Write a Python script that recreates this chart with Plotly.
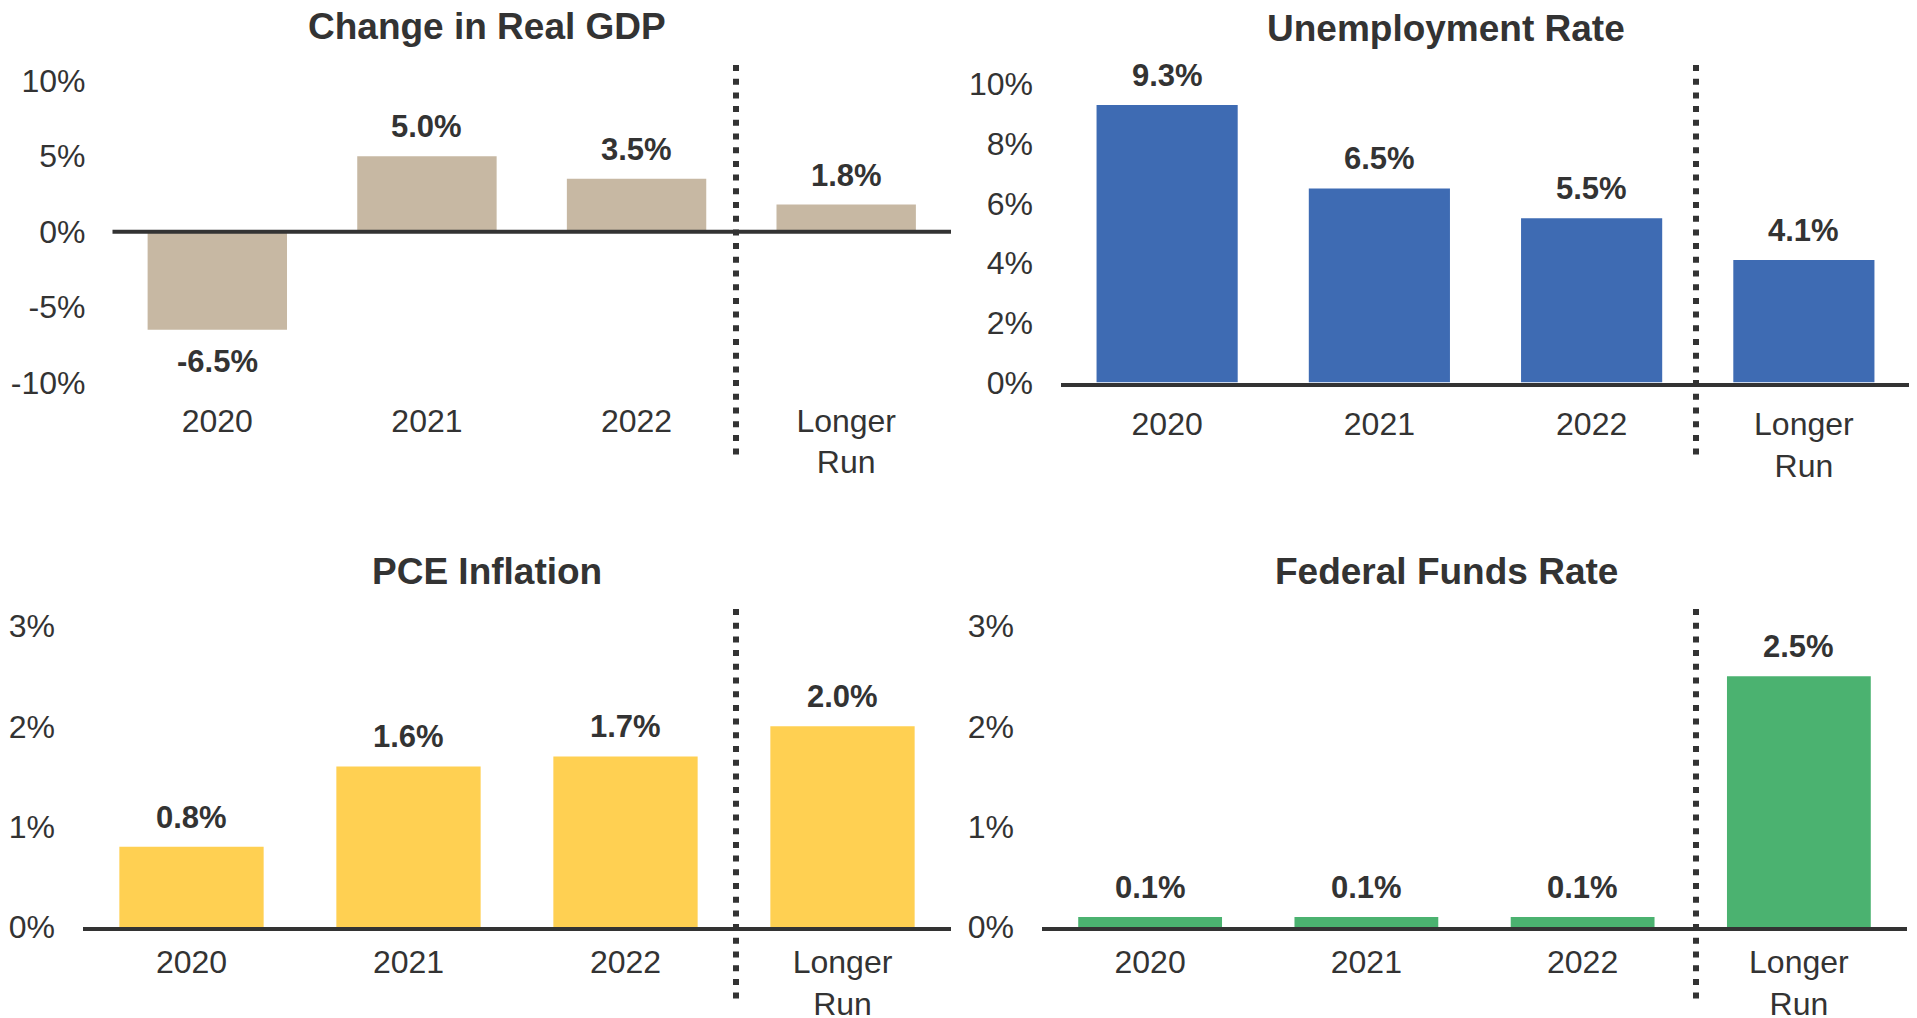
import plotly.graph_objects as go

# forecast data (percent)
categories = ["2020", "2021", "2022", "Longer<br>Run"]
gdp = [-6.5, 5.0, 3.5, 1.8]
unemployment = [9.3, 6.5, 5.5, 4.1]
pce_inflation = [0.8, 1.6, 1.7, 2.0]
fed_funds = [0.1, 0.1, 0.1, 2.5]

titles = ["Change in Real GDP", "Unemployment Rate", "PCE Inflation", "Federal Funds Rate"]
colors = ["#C7B8A3", "#3E6BB3", "#FFD052", "#4BB270"]

gdp_ticks = [-10, -5, 0, 5, 10]
unemp_ticks = [0, 2, 4, 6, 8, 10]
rate_ticks = [0, 1, 2, 3]

# the page body has an 8px margin, so the figure is laid out in page pixels minus that
OFF = 8
W, H = 1917 - OFF, 1018 - OFF
FONT = "Liberation Sans, Arial, sans-serif"
TEXT = "#333333"
LINE = "#333333"


def px_x(a, b):
    return [(a - OFF) / W, (b - OFF) / W]


def px_y(top, bottom):
    return [1 - (bottom - OFF) / H, 1 - (top - OFF) / H]


panels = [
    dict(values=gdp, ticks=gdp_ticks, x=px_x(112.5, 951), y=px_y(80.7, 382.7),
         title=(487, 26), sep_x=736, sep_y=(65, 457), xstand=16, ystand=26),
    dict(values=unemployment, ticks=unemp_ticks, x=px_x(1061, 1910), y=px_y(84, 382.5),
         title=(1446, 28), sep_x=1696, sep_y=(65, 457), xstand=10, ystand=27),
    dict(values=pce_inflation, ticks=rate_ticks, x=px_x(83, 951), y=px_y(626, 927),
         title=(487, 571), sep_x=736, sep_y=(609, 1001), xstand=4, ystand=27),
    dict(values=fed_funds, ticks=rate_ticks, x=px_x(1042, 1907), y=px_y(626, 927),
         title=(1446, 571), sep_x=1696, sep_y=(609, 1001), xstand=4, ystand=27),
]

fig = go.Figure()
annotations = []
shapes = []

for i, p in enumerate(panels):
    n = "" if i == 0 else str(i + 1)
    xa, ya = "x" + n, "y" + n
    idx = list(range(len(categories)))
    fig.add_trace(go.Bar(x=idx, y=p["values"], marker_color=colors[i],
                         marker_line_width=0, xaxis=xa, yaxis=ya, hoverinfo="skip"))

    interior_zero = min(p["ticks"]) < 0
    fig.layout["xaxis" + n] = dict(domain=p["x"], anchor=ya, showgrid=False, zeroline=False,
                                   showline=not interior_zero, linecolor=LINE, linewidth=4,
                                   ticks="", ticklabelstandoff=p["xstand"], automargin=False,
                                   tickvals=idx, ticktext=categories,
                                   tickfont=dict(size=32, color=TEXT, family=FONT),
                                   range=[-0.5, 3.5], fixedrange=True)
    fig.layout["yaxis" + n] = dict(domain=p["y"], anchor=xa, showgrid=False, zeroline=False,
                                   showline=False, ticks="", ticklabelstandoff=p["ystand"],
                                   automargin=False,
                                   range=[min(p["ticks"]), max(p["ticks"])],
                                   tickvals=p["ticks"], ticktext=["%d%%" % t for t in p["ticks"]],
                                   tickfont=dict(size=32, color=TEXT, family=FONT),
                                   fixedrange=True)

    # value labels
    for j, v in zip(idx, p["values"]):
        annotations.append(dict(x=j, y=v, xref=xa, yref=ya, text="<b>%.1f%%</b>" % v,
                                showarrow=False, yanchor="middle",
                                yshift=29.5 if v >= 0 else -32,
                                font=dict(size=31, color=TEXT, family=FONT)))

    # panel title
    tx, ty = p["title"]
    annotations.append(dict(x=(tx - OFF) / W, y=1 - (ty - OFF) / H, xref="paper", yref="paper",
                            text="<b>%s</b>" % titles[i], showarrow=False,
                            xanchor="center", yanchor="middle",
                            font=dict(size=37, color=TEXT, family=FONT)))

    # zero line crossing the middle of the GDP panel
    if interior_zero:
        shapes.append(dict(type="line", xref=xa + " domain", yref=ya, x0=0, x1=1, y0=0, y1=0,
                           line=dict(color=LINE, width=4)))
    # dotted separator before the longer run
    sx = (p["sep_x"] - OFF) / W
    shapes.append(dict(type="line", xref="paper", yref="paper", x0=sx, x1=sx,
                       y0=1 - (p["sep_y"][0] - OFF) / H, y1=1 - (p["sep_y"][1] - OFF) / H,
                       line=dict(color=LINE, width=6, dash="6px,7.7px")))

fig.update_layout(width=W, height=H, margin=dict(l=0, r=0, t=0, b=0, pad=0),
                  paper_bgcolor="white", plot_bgcolor="white",
                  showlegend=False, bargap=0.335,
                  annotations=annotations, shapes=shapes,
                  font=dict(family=FONT, color=TEXT))

fig.write_html("out.html")
